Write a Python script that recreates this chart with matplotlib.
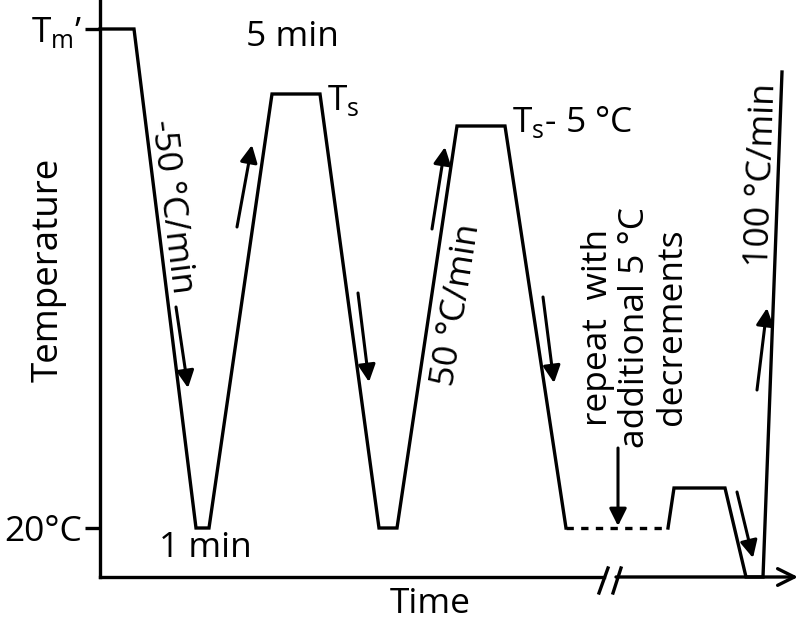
import matplotlib.pyplot as plt

plt.rcParams['font.family'] = ['Open Sans', 'DejaVu Sans']
plt.rcParams['mathtext.fontset'] = 'custom'
plt.rcParams['mathtext.rm'] = 'Open Sans'

# temperature program (drawing units: time to the right, temperature up)
cycle_time = [0, 34, 96, 109, 172, 220, 279, 297, 357, 405, 466]
cycle_temp = [548, 548, 49, 49, 483, 483, 49, 49, 451, 451, 49]
repeat_time = [466, 568]
repeat_temp = [49, 49]
final_time = [568, 574, 625, 646, 663, 682]
final_temp = [49, 89, 89, 0, 0, 505]

ytick_vals = [548, 49]
ytick_labels = [r'T$_\mathregular{m}$’', '20°C']

# direction arrows: (start, end)
arrows = [((76, 270), (88, 189)),
          ((137, 350), (152, 432)),
          ((258, 284), (269, 195)),
          ((332, 348), (345, 430)),
          ((443, 280), (454, 194)),
          ((518, 129), (518, 51)),
          ((637, 85), (653, 19)),
          ((657, 187), (667, 269))]

lw = 2.4
fs = 25.5

fig = plt.figure(figsize=(8, 6.21), dpi=100)
ax = fig.add_axes([0.125, 44 / 621, 0.875, 577 / 621])
ax.set_xlim(0, 700)
ax.set_ylim(0, 577)

ax.plot(cycle_time, cycle_temp, color='black', lw=lw, clip_on=False,
        solid_joinstyle='miter')
ax.plot(repeat_time, repeat_temp, color='black', lw=lw, ls=(0, (2.2, 2.2)),
        clip_on=False)
ax.plot(final_time, final_temp, color='black', lw=lw, clip_on=False,
        solid_joinstyle='miter')

for (x0, y0), (x1, y1) in arrows:
    ax.annotate('', xy=(x1, y1), xytext=(x0, y0),
                arrowprops=dict(arrowstyle='-|>', color='black', lw=2.2,
                                mutation_scale=26, shrinkA=0, shrinkB=0))

# axes
for s in ['top', 'right', 'bottom']:
    ax.spines[s].set_visible(False)
ax.spines['left'].set_linewidth(lw)
ax.plot([0, 504], [0, 0], color='black', lw=lw, clip_on=False)
ax.annotate('', xy=(698, 0), xytext=(516, 0),
            arrowprops=dict(arrowstyle='->', color='black', lw=lw,
                            mutation_scale=30, shrinkA=0, shrinkB=0))
ax.plot([499, 508], [-16, 9], color='black', lw=lw, clip_on=False)
ax.plot([513, 521], [-16, 9], color='black', lw=lw, clip_on=False)

ax.set_xticks([])
ax.set_yticks(ytick_vals)
ax.set_yticklabels(ytick_labels, fontsize=fs)
ax.tick_params(axis='y', length=11, width=lw, pad=2)

ax.set_ylabel('Temperature', fontsize=26.5)
ax.yaxis.set_label_coords(-33 / 700, 0.532)
ax.set_xlabel('Time', fontsize=fs)
ax.xaxis.set_label_coords(330 / 700, -0.047)
ax.xaxis.label.set_va('center')

# annotations
ax.text(192, 540, '5 min', fontsize=fs, ha='center', va='center')
ax.text(105, 29, '1 min', fontsize=fs, ha='center', va='center')
ax.text(227, 467, r'T$_\mathregular{s}$', fontsize=fs, ha='left', va='baseline')
ax.text(412, 445, r'T$_\mathregular{s}$- 5 °C', fontsize=fs,
        ha='left', va='baseline')
ax.text(72, 370, '-50 °C/min', fontsize=fs, ha='center', va='center',
        rotation=-83, rotation_mode='anchor')
ax.text(357, 272, '50 °C/min', fontsize=fs, ha='center', va='center',
        rotation=81, rotation_mode='anchor')
ax.text(662, 402, '100 °C/min', fontsize=fs, ha='center', va='center',
        rotation=88, rotation_mode='anchor')
ax.text(535, 250, 'repeat  with\nadditional 5 °C\ndecrements',
        fontsize=fs, ha='center', va='center', rotation=90,
        multialignment='center', linespacing=1.1)

fig.savefig('out.png', dpi=100)
